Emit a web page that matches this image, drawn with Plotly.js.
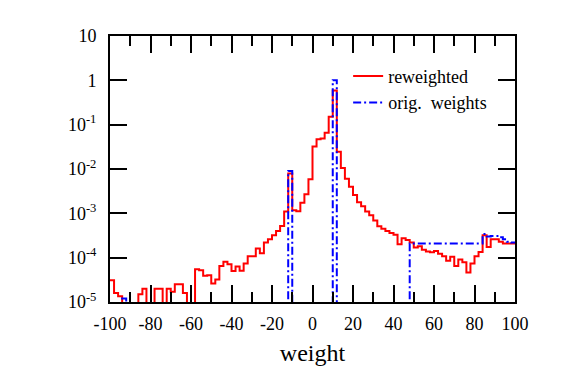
<!DOCTYPE html>
<html>
<head>
<meta charset="utf-8">
<script src="https://cdn.plot.ly/plotly-3.0.1.min.js"></script>
<style>
  html, body { margin: 0; padding: 0; background: #fff; }
  #chart { width: 581px; height: 368px; }
</style>
</head>
<body>
<div id="chart"></div>
<script>
// histogram binning: 100 bins of width 2 from -100 to 100
const binStart = -100;
const binWidth = 2;

// reweighted (red), one value per bin
const reweighted = [
  3.1e-5, 1.6e-5, 1.35e-5, 0, 0, 0, 0, 1.5e-5, 2.0e-5, 0,
  0, 2.0e-5, 2.0e-5, 0, 2.0e-5, 1.7e-5, 2.5e-5, 2.5e-5, 1.6e-5, 0,
  0, 5.5e-5, 5.2e-5, 3.9e-5, 4.0e-5, 2.6e-5, 3.2e-5, 6.5e-5, 8.1e-5, 7.1e-5,
  5.0e-5, 6.3e-5, 5.1e-5, 7.4e-5, 1.07e-4, 1.07e-4, 1.6e-4, 1.26e-4, 2.2e-4, 2.6e-4,
  3.2e-4, 4.0e-4, 5.2e-4, 1.1e-3, 7.9e-3, 1.17e-3, 1.12e-3, 1.74e-3, 2.7e-3, 5.9e-3,
  0.032, 0.047, 0.049, 0.066, 0.15, 0.59, 0.0245, 0.0105, 6.0e-3, 4.0e-3,
  2.6e-3, 1.78e-3, 1.45e-3, 1.1e-3, 9.1e-4, 6.9e-4, 5.1e-4, 4.5e-4, 4.0e-4, 3.6e-4,
  3.3e-4, 2.0e-4, 2.75e-4, 2.5e-4, 2.2e-4, 1.7e-4, 1.8e-4, 1.5e-4, 1.38e-4, 1.32e-4,
  1.41e-4, 1.23e-4, 1.07e-4, 8.5e-5, 1.05e-4, 6.5e-5, 9.1e-5, 7.9e-5, 4.6e-5, 7.4e-5,
  1.07e-4, 1.35e-4, 3.2e-4, 1.74e-4, 2.6e-4, 2.6e-4, 2.3e-4, 2.1e-4, 2.1e-4, 2.1e-4
];

// original weights (blue), one value per bin
const origWeights = [
  0, 0, 0, 1.2e-5, 0, 0, 0, 0, 0, 0,
  0, 0, 0, 0, 0, 0, 0, 0, 0, 0,
  0, 0, 0, 0, 0, 0, 0, 0, 0, 0,
  0, 0, 0, 0, 0, 0, 0, 0, 0, 0,
  0, 0, 0, 0, 9e-3, 0, 0, 0, 0, 0,
  0, 0, 0, 0, 0, 1.0, 0, 0, 0, 0,
  0, 0, 0, 0, 0, 0, 0, 0, 0, 0,
  0, 0, 0, 0, 2.1e-4, 2.1e-4, 2.1e-4, 2.1e-4, 2.1e-4, 2.1e-4,
  2.1e-4, 2.1e-4, 2.1e-4, 2.1e-4, 2.1e-4, 2.1e-4, 2.1e-4, 2.1e-4, 2.1e-4, 2.1e-4,
  2.1e-4, 2.1e-4, 3.4e-4, 3.0e-4, 3.1e-4, 3.1e-4, 2.9e-4, 2.6e-4, 2.3e-4, 2.2e-4
];

const xTickVals = [-100, -80, -60, -40, -20, 0, 20, 40, 60, 80, 100];
const xTickText = ['-100', '-80', '-60', '-40', '-20', '0', '20', '40', '60', '80', '100'];
const yTickVals = [1e-5, 1e-4, 1e-3, 1e-2, 1e-1, 1, 10];
const yTickText = ['10<sup>-5</sup>', '10<sup>-4</sup>', '10<sup>-3</sup>', '10<sup>-2</sup>', '10<sup>-1</sup>', '1', '10'];

// turn bin contents into a step line; empty bins drop below the axis
function steps(vals) {
  const x = [], y = [];
  vals.forEach((v, i) => {
    x.push(binStart + i * binWidth);
    y.push(v > 0 ? v : 1e-9);
  });
  x.push(binStart + vals.length * binWidth);
  y.push(y[y.length - 1]);
  return { x: x, y: y };
}

const red = steps(reweighted);
const blue = steps(origWeights);

const data = [
  {
    x: red.x, y: red.y, type: 'scatter', mode: 'lines', name: 'reweighted',
    line: { shape: 'hv', color: '#ff0000', width: 2 }
  },
  {
    x: blue.x, y: blue.y, type: 'scatter', mode: 'lines', name: 'orig.  weights',
    line: { shape: 'hv', color: '#0000ff', width: 2, dash: '8px,3px,2px,3px' }
  }
];

const font = 'Liberation Serif, Times New Roman, serif';

const layout = {
  width: 581,
  height: 368,
  margin: { l: 110, r: 66, t: 36, b: 66 },
  paper_bgcolor: '#fff',
  plot_bgcolor: '#fff',
  font: { family: font, color: '#000', size: 18 },
  showlegend: true,
  legend: {
    x: 0.588, xanchor: 'left', y: 0.918, yanchor: 'top',
    bgcolor: 'rgba(0,0,0,0)', font: { family: font, size: 18 },
    tracegroupgap: 0
  },
  xaxis: {
    range: [-100, 100],
    tickmode: 'array', tickvals: xTickVals, ticktext: xTickText,
    ticks: 'inside', ticklen: 17, tickwidth: 2, tickcolor: '#000',
    minor: { dtick: 10, ticks: 'inside', ticklen: 10, tickwidth: 2, tickcolor: '#000', showgrid: false },
    showline: true, linewidth: 2, linecolor: '#000', mirror: 'allticks',
    showgrid: false, zeroline: false,
    ticklabelstandoff: 4,
    tickfont: { family: font, size: 18 },
    title: { text: 'weight', font: { family: font, size: 24 }, standoff: 12 }
  },
  yaxis: {
    type: 'log',
    range: [-5, 1],
    tickmode: 'array', tickvals: yTickVals, ticktext: yTickText,
    ticks: 'inside', ticklen: 17, tickwidth: 2, tickcolor: '#000',
    showline: true, linewidth: 2, linecolor: '#000', mirror: 'allticks',
    showgrid: false, zeroline: false,
    ticklabelstandoff: 8,
    tickfont: { family: font, size: 18 }
  }
};

Plotly.newPlot('chart', data, layout, { displayModeBar: false, staticPlot: true });
</script>
</body>
</html>
